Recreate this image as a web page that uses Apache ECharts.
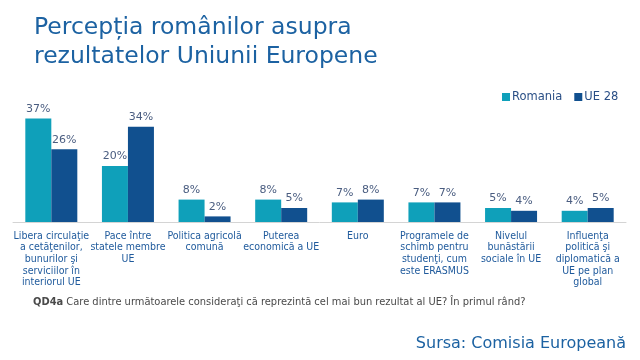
<!DOCTYPE html>
<html><head><meta charset="utf-8">
<script src="https://cdn.jsdelivr.net/npm/echarts@6/dist/echarts.min.js"></script>
<style>html,body{margin:0;padding:0;background:#fff}#c{width:640px;height:360px}</style>
</head><body><div id="c"></div>
<script>
const categories = [
  "Libera circulaţie\na cetăţenilor,\nbunurilor şi\nserviciilor în\ninteriorul UE",
  "Pace între\nstatele membre\nUE",
  "Politica agricolă\ncomună",
  "Puterea\neconomică a UE",
  "Euro",
  "Programele de\nschimb pentru\nstudenţi, cum\neste ERASMUS",
  "Nivelul\nbunăstării\nsociale în UE",
  "Influenţa\npolitică şi\ndiplomatică a\nUE pe plan\nglobal"
];
const romania = [37, 20, 8, 8, 7, 7, 5, 4];
const ue28 = [26, 34, 2, 5, 8, 7, 4, 5];
const seriesNames = ["Romania", "UE 28"];

const chart = echarts.init(document.getElementById('c'));
const labelStyle = {show: true, position: 'top', formatter: '{c}%', color: '#4a5d80', fontSize: 11, fontFamily: 'DejaVu Sans', distance: 4};
chart.setOption({
  animation: false,
  title: [
    {text: 'Percepția românilor asupra\nrezultatelor Uniunii Europene', left: 29, top: 8,
     textStyle: {fontFamily: 'DejaVu Sans', fontWeight: 'normal', fontSize: 23.5, color: '#1c62a2', lineHeight: 29}},
    {text: '{b|QD4a} Care dintre următoarele consideraţi că reprezintă cel mai bun rezultat al UE? În primul rând?', left: 28, top: 292,
     textStyle: {fontFamily: 'DejaVu Sans Condensed', fontWeight: 'normal', fontSize: 11, color: '#4a4a4a',
       rich: {b: {fontWeight: 'bold', fontFamily: 'DejaVu Sans Condensed', fontSize: 11, color: '#4a4a4a'}}}},
    {text: 'Sursa: Comisia Europeană', right: 9, top: 331,
     textStyle: {fontFamily: 'DejaVu Sans', fontWeight: 'normal', fontSize: 16, color: '#1c62a2'}}
  ],
  legend: {
    data: seriesNames, left: 497, top: 86, itemWidth: 8, itemHeight: 8, itemGap: 12, icon: 'rect',
    textStyle: {fontFamily: 'DejaVu Sans', fontSize: 11.5, color: '#2a4f86', padding: [0,0,0,-3]}
  },
  grid: {left: 13, right: 14, top: 110, bottom: 138},
  xAxis: {
    type: 'category', data: categories,
    axisLine: {lineStyle: {color: '#d4d4d4'}}, axisTick: {show: false},
    axisLabel: {interval: 0, fontFamily: 'DejaVu Sans Condensed', fontSize: 10.5, color: '#1f5a9c', lineHeight: 11.7, margin: 8}
  },
  yAxis: {type: 'value', min: 0, max: 40, show: false, splitLine: {show: false}},
  series: [
    {name: seriesNames[0], type: 'bar', data: romania, barWidth: 26, barGap: '0%', itemStyle: {color: '#0fa0ba'}, label: labelStyle},
    {name: seriesNames[1], type: 'bar', data: ue28, barWidth: 26, barGap: '0%', itemStyle: {color: '#11508f'}, label: labelStyle}
  ]
});
</script></body></html>
